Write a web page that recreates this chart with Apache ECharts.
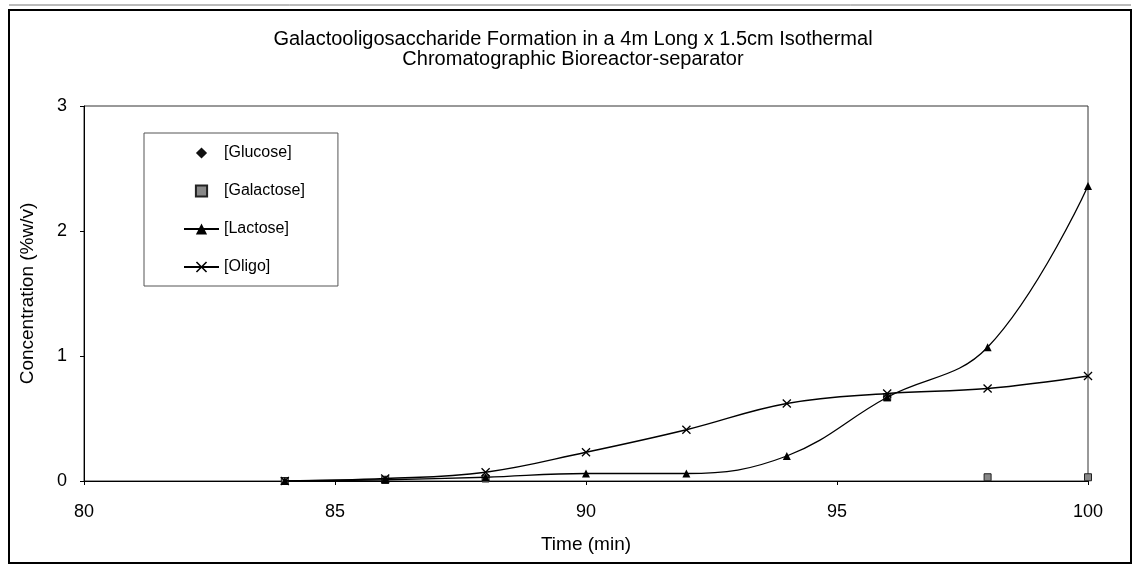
<!DOCTYPE html>
<html>
<head>
<meta charset="utf-8">
<script src="https://cdn.jsdelivr.net/npm/echarts@6/dist/echarts.min.js"></script>
<style>
  html, body { margin: 0; padding: 0; background: #fff; }
  #chart { width: 1134px; height: 567px; }
</style>
</head>
<body>
<div id="chart"></div>
<script>
// Sampling times (min) and measured concentrations (%w/v)
const glucoseTime = [84, 86, 88];
const glucoseValues = [0, 0.01, 0.02];

const galactoseTime = [84, 86, 88, 96, 98, 100];
const galactoseValues = [0, 0.01, 0.02, 0.67, 0.03, 0.03];

const lactoseTime = [84, 86, 88, 90, 92, 94, 96, 98, 100];
const lactoseValues = [0, 0.01, 0.03, 0.06, 0.06, 0.2, 0.67, 1.07, 2.36];

const oligoTime = [84, 86, 88, 90, 92, 94, 96, 98, 100];
const oligoValues = [0, 0.02, 0.07, 0.23, 0.41, 0.62, 0.70, 0.74, 0.84];

const xTicks = [80, 85, 90, 95, 100];
const yTicks = [0, 1, 2, 3];

const FONT = '"Liberation Sans", Arial, sans-serif';
const X_MARK = 'path://M0,1 L1,0 L5,4 L9,0 L10,1 L6,5 L10,9 L9,10 L5,6 L1,10 L0,9 L4,5 Z';

const pairs = (xs, ys) => xs.map((x, i) => [x, ys[i]]);

const chart = echarts.init(document.getElementById('chart'), null, { renderer: 'canvas' });

chart.setOption({
  backgroundColor: '#ffffff',
  animation: false,
  title: {
    text: 'Galactooligosaccharide Formation in a 4m Long x 1.5cm Isothermal\nChromatographic Bioreactor-separator',
    left: 568,
    textAlign: 'center',
    top: 24,
    textStyle: { fontFamily: FONT, fontSize: 20, fontWeight: 'normal', color: '#000', lineHeight: 20 }
  },
  graphic: [{
    type: 'rect',
    shape: { x: 9, y: 10, width: 1122, height: 553 },
    style: { fill: 'none', stroke: '#000', lineWidth: 2 },
    silent: true
  }, {
    type: 'line',
    shape: { x1: 9, y1: 5, x2: 1131, y2: 5 },
    style: { stroke: '#777', lineWidth: 1 },
    silent: true
  }],
  legend: {
    orient: 'vertical',
    left: 144,
    top: 133,
    padding: [12, 33, 11, 39],
    itemGap: 22,
    itemWidth: 35,
    itemHeight: 14,
    borderColor: '#555',
    borderWidth: 1,
    textStyle: { fontFamily: FONT, fontSize: 16, color: '#000' },
    data: ['[Glucose]', '[Galactose]', '[Lactose]', '[Oligo]']
  },
  grid: {
    left: 84, right: 46, top: 106, bottom: 86,
    show: true, borderColor: '#333', borderWidth: 1, backgroundColor: 'transparent'
  },
  xAxis: {
    type: 'value',
    min: xTicks[0],
    max: xTicks[xTicks.length - 1],
    interval: 5,
    name: 'Time (min)',
    nameLocation: 'middle',
    nameGap: 54,
    nameTextStyle: { fontFamily: FONT, fontSize: 19, color: '#000' },
    axisLine: { lineStyle: { color: '#000', width: 1 } },
    axisTick: { show: true, length: 4, lineStyle: { color: '#000' } },
    axisLabel: { fontFamily: FONT, fontSize: 18, color: '#000', margin: 22 },
    splitLine: { show: false }
  },
  yAxis: {
    type: 'value',
    min: yTicks[0],
    max: yTicks[yTicks.length - 1],
    interval: 1,
    name: 'Concentration (%w/v)',
    nameLocation: 'middle',
    nameGap: 47,
    nameTextStyle: { fontFamily: FONT, fontSize: 19, color: '#000' },
    axisLine: { show: true, lineStyle: { color: '#000', width: 1 } },
    axisTick: { show: true, length: 4, lineStyle: { color: '#000' } },
    axisLabel: { fontFamily: FONT, fontSize: 18, color: '#000', margin: 17 },
    splitLine: { show: false }
  },
  series: [
    {
      name: '[Glucose]',
      type: 'line',
      data: pairs(glucoseTime, glucoseValues),
      symbol: 'diamond',
      symbolSize: 7,
      showAllSymbol: true,
      lineStyle: { opacity: 0, width: 0 },
      itemStyle: { color: '#111' },
      z: 3
    },
    {
      name: '[Galactose]',
      type: 'line',
      data: pairs(galactoseTime, galactoseValues),
      symbol: 'rect',
      symbolSize: 7,
      showAllSymbol: true,
      lineStyle: { opacity: 0, width: 0 },
      itemStyle: { color: '#888', borderColor: '#222', borderWidth: 1 },
      z: 3
    },
    {
      name: '[Lactose]',
      type: 'line',
      data: pairs(lactoseTime, lactoseValues),
      smooth: 0.4,
      symbol: 'triangle',
      symbolSize: 8,
      showAllSymbol: true,
      lineStyle: { color: '#000', width: 1.3 },
      itemStyle: { color: '#000' },
      z: 4
    },
    {
      name: '[Oligo]',
      type: 'line',
      data: pairs(oligoTime, oligoValues),
      smooth: 0.4,
      symbol: X_MARK,
      symbolSize: 9,
      showAllSymbol: true,
      lineStyle: { color: '#000', width: 1.3 },
      itemStyle: { color: '#000' },
      z: 4
    }
  ]
});
</script>
</body>
</html>
